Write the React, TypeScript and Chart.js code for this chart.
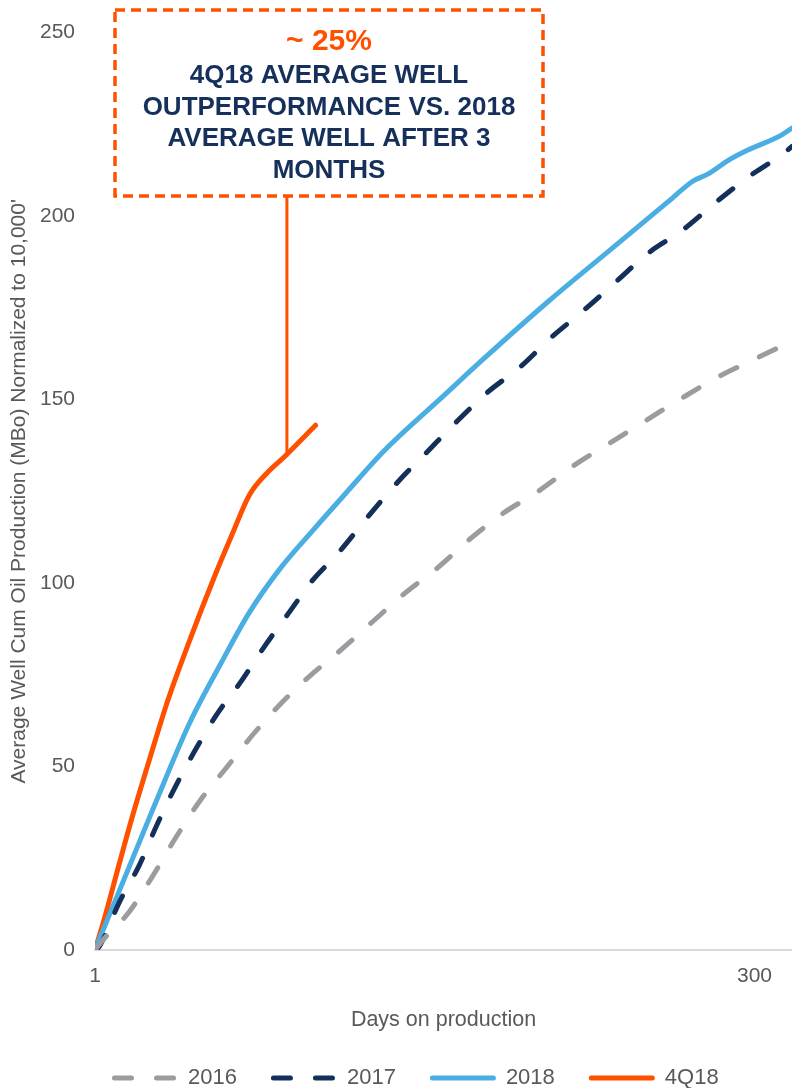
import React, { useEffect, useRef } from "react";
import { Chart, registerables } from "chart.js";

Chart.register(...registerables);

// ---------- data ----------
const seriesLabels = ["2016", "2017", "2018", "4Q18"];

const days2016 = [1, 5, 16, 27, 38, 49, 61, 73, 85, 99, 111, 126, 141, 156, 171, 186, 202, 218, 234, 250, 266, 283, 300, 317];
const vals2016 = [0, 3, 10, 20, 31, 41, 50, 59, 67, 75, 81, 89, 97, 104, 112, 119, 125, 132, 138, 144, 150, 156, 161, 166];

const days2017 = [1, 3, 12, 21, 29, 37, 46, 56, 67, 77, 89, 100, 111, 126, 139, 152, 165, 179, 194, 208, 222, 237, 252, 267, 283, 298, 313, 317];
const vals2017 = [0, 1, 13, 23, 34, 44, 54, 64, 73, 82, 92, 101, 108, 119, 128, 136, 144, 152, 159, 167, 174, 182, 190, 196, 204, 211, 217, 219];

const days2018 = [1, 3, 14, 27, 44, 58, 71, 85, 100, 114, 132, 159, 177, 207, 235, 261, 272, 279, 289, 297, 312, 317];
const vals2018 = [0, 3, 19, 38, 62, 78, 92, 104, 114.5, 124, 136, 151, 161, 177, 191, 204, 209.5, 211.5, 215.5, 218, 222, 224];

const days4Q18 = [1, 5, 12, 18, 26, 34, 44, 55, 63, 71, 79, 87, 101];
const vals4Q18 = [0, 8, 23.5, 36.5, 52.5, 68, 84.5, 101.5, 113, 124, 130, 134.5, 143];

const xTickValues = [1, 300];
const xMin = 1;
const xMax = 317;
const yMin = 0;
const yMax = 250;
const yStep = 50;

const xTitle = "Days on production";
const yTitle = "Average Well Cum Oil Production (MBo) Normalized to 10,000'";

const calloutHeadline = "~ 25%";
const calloutLines = ["4Q18 AVERAGE WELL", "OUTPERFORMANCE VS. 2018", "AVERAGE WELL AFTER 3", "MONTHS"];
const calloutDay = 88;
const calloutValue = 134.5;

// ---------- styles ----------
const FONT = '"Liberation Sans", Arial, Helvetica, sans-serif';
const TEXT_GRAY = "#595959";
const C_GRAY = "#9c9ca0";
const C_NAVY = "#14305a";
const C_BLUE = "#4aaee3";
const C_ORANGE = "#ff5000";
const seriesColors = [C_GRAY, C_NAVY, C_BLUE, C_ORANGE];
const seriesDash: number[][] = [[18, 25], [18, 25], [], []];

const W = 792;
const H = 1088;
const BOX = { left: 115, right: 543, top: 10, bottom: 196 };

const toPoints = (xs: number[], ys: number[]) => xs.map((d, i) => ({ x: d, y: ys[i] }));

const calloutPlugin = {
  id: "callout",
  beforeDatasetsDraw(chart: any) {
    const { ctx, scales } = chart;
    const px = scales.x.getPixelForValue(calloutDay);
    const py = scales.y.getPixelForValue(calloutValue);
    ctx.save();
    ctx.strokeStyle = C_ORANGE;
    ctx.lineWidth = 3;
    ctx.setLineDash([]);
    ctx.beginPath();
    ctx.moveTo(px, BOX.bottom);
    ctx.lineTo(px, py);
    ctx.stroke();
    ctx.restore();
  },
  afterDraw(chart: any) {
    const { ctx } = chart;
    ctx.save();
    // callout box
    ctx.fillStyle = "#ffffff";
    ctx.fillRect(BOX.left, BOX.top, BOX.right - BOX.left, BOX.bottom - BOX.top);
    ctx.strokeStyle = C_ORANGE;
    ctx.lineWidth = 3.5;
    ctx.setLineDash([10, 6]);
    ctx.strokeRect(BOX.left, BOX.top, BOX.right - BOX.left, BOX.bottom - BOX.top);
    ctx.setLineDash([]);
    const cx = (BOX.left + BOX.right) / 2;
    ctx.textAlign = "center";
    ctx.textBaseline = "middle";
    ctx.fillStyle = C_ORANGE;
    ctx.font = `bold 30px ${FONT}`;
    ctx.fillText(calloutHeadline, cx, 42);
    ctx.fillStyle = "#15305a";
    ctx.font = `bold 26px ${FONT}`;
    calloutLines.forEach((t, i) => ctx.fillText(t, cx, 76 + i * 31.5));

    // legend
    const ly = 1078;
    let lx = 112;
    ctx.font = `22px ${FONT}`;
    ctx.textAlign = "left";
    chart.data.datasets.forEach((ds: any) => {
      ctx.strokeStyle = ds.borderColor;
      ctx.lineWidth = 5;
      ctx.lineCap = "round";
      ctx.setLineDash(ds.borderDash && ds.borderDash.length ? [17, 25] : []);
      ctx.beginPath();
      ctx.moveTo(lx + 2.5, ly);
      ctx.lineTo(lx + 66 - 2.5, ly);
      ctx.stroke();
      ctx.setLineDash([]);
      ctx.fillStyle = TEXT_GRAY;
      const tx = lx + 76;
      ctx.fillText(ds.label, tx, ly);
      lx = tx + ctx.measureText(ds.label).width + 34;
    });
    ctx.restore();
  },
};

export default function App() {
  const ref = useRef<HTMLCanvasElement | null>(null);

  useEffect(() => {
    if (!ref.current) return;
    const series = [
      toPoints(days2016, vals2016),
      toPoints(days2017, vals2017),
      toPoints(days2018, vals2018),
      toPoints(days4Q18, vals4Q18),
    ];
    const chart = new Chart(ref.current, {
      type: "line",
      data: {
        datasets: series.map((pts, i) => ({
          label: seriesLabels[i],
          data: pts,
          borderColor: seriesColors[i],
          backgroundColor: seriesColors[i],
          borderWidth: 5,
          borderDash: seriesDash[i],
          borderCapStyle: "round",
          borderJoinStyle: "round",
          pointRadius: 0,
          pointHoverRadius: 0,
          cubicInterpolationMode: "monotone",
          fill: false,
        })) as any,
      },
      options: {
        responsive: false,
        animation: false,
        events: [],
        layout: { padding: { top: 27, left: 0, right: 0, bottom: 0 } },
        plugins: {
          legend: { display: false },
          tooltip: { enabled: false },
          title: { display: false },
        },
        scales: {
          x: {
            type: "linear",
            min: xMin,
            max: xMax,
            afterBuildTicks: (s: any) => {
              s.ticks = xTickValues.map((v) => ({ value: v }));
            },
            afterFit: (s: any) => {
              s.height = H - 950;
            },
            ticks: {
              autoSkip: false,
              maxRotation: 0,
              padding: 14,
              color: TEXT_GRAY,
              font: { family: FONT, size: 21 },
            },
            grid: { display: false, drawTicks: false },
            border: { display: true, color: "#d9d9d9", width: 2 },
            title: {
              display: true,
              text: xTitle,
              color: TEXT_GRAY,
              font: { family: FONT, size: 21.5 },
              padding: { top: 0, bottom: 55 },
            },
          },
          y: {
            type: "linear",
            min: yMin,
            max: yMax,
            afterFit: (s: any) => {
              s.width = 95;
            },
            ticks: {
              stepSize: yStep,
              padding: 20,
              color: TEXT_GRAY,
              font: { family: FONT, size: 21 },
            },
            grid: { display: false, drawTicks: false },
            border: { display: false },
            title: {
              display: true,
              text: yTitle,
              color: TEXT_GRAY,
              font: { family: FONT, size: 21 },
              padding: { top: 7, bottom: 0 },
            },
          },
        },
      },
      plugins: [calloutPlugin],
    });
    return () => chart.destroy();
  }, []);

  return (
    <div style={{ position: "absolute", left: 0, top: 0, width: W, height: H, background: "#fff" }}>
      <canvas ref={ref} width={W} height={H} style={{ display: "block", width: W, height: H }} />
    </div>
  );
}
